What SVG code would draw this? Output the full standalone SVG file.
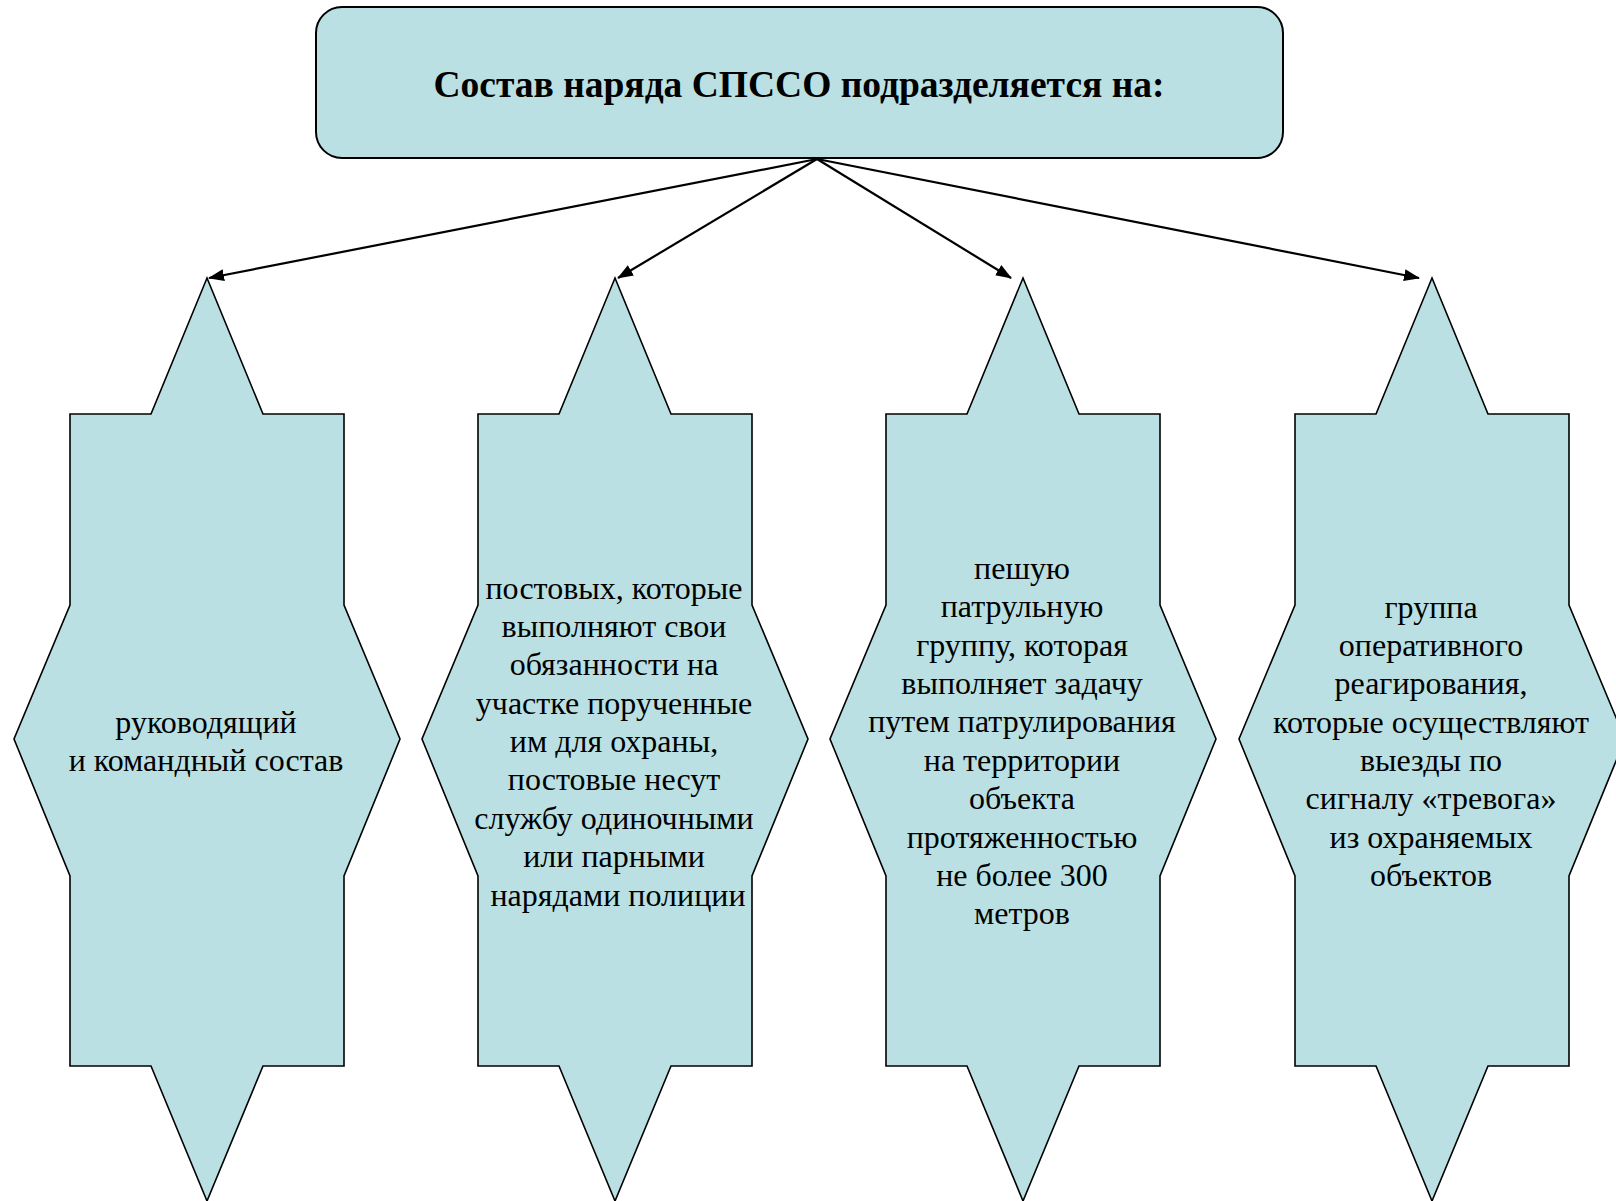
<svg xmlns="http://www.w3.org/2000/svg" width="1616" height="1201" viewBox="0 0 1616 1201">
<defs>
<style>
.shape{fill:#BAE0E3;stroke:#000;stroke-width:1.6;}
.box{fill:#BAE0E3;stroke:#000;stroke-width:2;}
.t{font-family:"Liberation Serif","Times New Roman",serif;font-size:32px;fill:#000;text-anchor:middle;}
.title{font-family:"Liberation Serif","Times New Roman",serif;font-size:37.5px;font-weight:bold;fill:#000;text-anchor:middle;}
.conn{stroke:#000;stroke-width:2.2;fill:none;marker-end:url(#arr);}
</style>
<marker id="arr" markerWidth="16" markerHeight="12" refX="15" refY="6" orient="auto" markerUnits="userSpaceOnUse">
<path d="M0,0 L16,6 L0,12 Z" fill="#000"/>
</marker>
<polygon id="star" points="0,0 56,136 137,136 137,327 193,461 137,598 137,788 56,788 0,923 -56,788 -137,788 -137,598 -193,461 -137,327 -137,136 -56,136"/>
</defs>
<rect width="1616" height="1201" fill="#fff"/>
<g id="top">
<rect class="box" x="316" y="7" width="967" height="151" rx="26" ry="26"/>
<text class="title" x="799" y="97">Состав наряда СПССО подразделяется на:</text>
</g>
<g id="connectors">
<line class="conn" x1="817" y1="159" x2="209" y2="278"/>
<line class="conn" x1="817" y1="159" x2="618" y2="278"/>
<line class="conn" x1="817" y1="159" x2="1011" y2="278"/>
<line class="conn" x1="817" y1="159" x2="1419" y2="278"/>
</g>
<g id="node1">
<use href="#star" class="shape" x="207" y="278"/>
<text class="t" x="206" y="733">руководящий</text>
<text class="t" x="206" y="771">и командный состав</text>
</g>
<g id="node2">
<use href="#star" class="shape" x="615" y="278"/>
<text class="t" x="614" y="599">постовых, которые</text>
<text class="t" x="614" y="637">выполняют свои</text>
<text class="t" x="614" y="675">обязанности на</text>
<text class="t" x="614" y="714">участке порученные</text>
<text class="t" x="614" y="752">им для охраны,</text>
<text class="t" x="614" y="790">постовые несут</text>
<text class="t" x="614" y="829">службу одиночными</text>
<text class="t" x="614" y="867">или парными</text>
<text class="t" x="618" y="906">нарядами полиции</text>
</g>
<g id="node3">
<use href="#star" class="shape" x="1023" y="278"/>
<text class="t" x="1022" y="579">пешую</text>
<text class="t" x="1022" y="617">патрульную</text>
<text class="t" x="1022" y="656">группу, которая</text>
<text class="t" x="1022" y="694">выполняет задачу</text>
<text class="t" x="1022" y="732">путем патрулирования</text>
<text class="t" x="1022" y="771">на территории</text>
<text class="t" x="1022" y="809">объекта</text>
<text class="t" x="1022" y="848">протяженностью</text>
<text class="t" x="1022" y="886">не более 300</text>
<text class="t" x="1022" y="924">метров</text>
</g>
<g id="node4">
<use href="#star" class="shape" x="1432" y="278"/>
<text class="t" x="1431" y="618">группа</text>
<text class="t" x="1431" y="656">оперативного</text>
<text class="t" x="1431" y="694">реагирования,</text>
<text class="t" x="1431" y="733">которые осуществляют</text>
<text class="t" x="1431" y="771">выезды по</text>
<text class="t" x="1431" y="809">сигналу «тревога»</text>
<text class="t" x="1431" y="848">из охраняемых</text>
<text class="t" x="1431" y="886">объектов</text>
</g>
</svg>
